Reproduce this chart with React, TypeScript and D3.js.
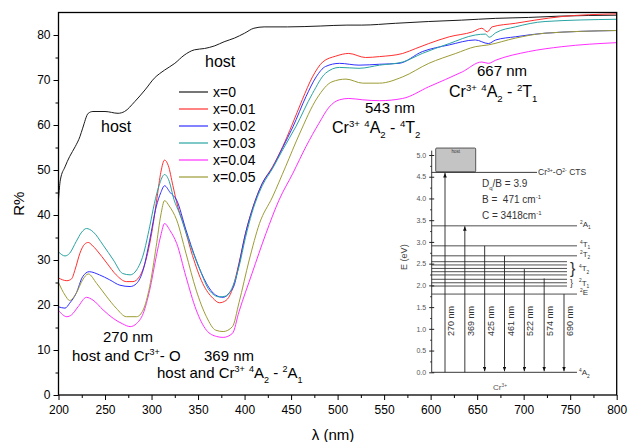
import { useEffect, useRef } from "react";
import * as d3 from "d3";

const W = 629;
const H = 442;
const FONT = "'Liberation Sans', Arial, sans-serif";
const PLOT = { left: 58.5, right: 616.7, top: 12.5, bottom: 395 };

type Pt = [number, number];

// [wavelength nm, R%]
const x0: Pt[] = [
  [200, 43.5], [202, 47.8], [207, 50.7], [212, 53], [218, 55.2], [223, 57.4], [226, 59.3],
  [232, 62.6], [237, 63], [250, 63], [264, 62.6], [271, 63], [282, 65.2], [293, 67.8],
  [303, 70.4], [314, 72.2], [325, 73.7], [335, 75.5], [346, 76.7], [357, 77], [368, 77.6],
  [378, 78.5], [389, 79.3], [400, 80.4], [410, 81.5], [421, 81.8], [446, 81.8], [482, 82],
  [510, 82.2], [526, 82.2], [562, 82.6], [598, 83], [633, 83.3], [670, 83.7], [705, 83.9],
  [740, 84.2], [800, 84.4],
];
const x001: Pt[] = [
  [200, 26], [209, 25.4], [214, 25.8], [218, 28], [223, 31.5], [228, 33.5], [232, 33.9],
  [236, 33.3], [241, 32.2], [252, 29.3], [262, 26.7], [273, 25.2], [280, 25.2], [287, 26.3],
  [294, 30], [301, 37], [306, 44], [310, 49.5], [314, 52.2], [318, 51], [323, 46.5],
  [328, 42], [334, 38.2], [344, 31], [355, 24.8], [366, 21.5], [373, 20.5], [380, 21],
  [386, 23], [394, 29.3], [401, 35.9], [408, 41.1], [419, 47], [430, 50.7], [441, 55.2],
  [451, 60], [462, 65.6], [473, 70.7], [484, 74], [498, 75.3], [512, 75.9], [530, 75],
  [545, 75.2], [570, 75.9], [584, 77], [598, 78.1], [620, 79.6], [645, 80.7], [655, 81.5],
  [661, 80.7], [666, 81.8], [691, 82.6], [712, 83.3], [741, 84.1], [800, 84.7],
];
const x002: Pt[] = [
  [200, 19.6], [207, 19.3], [212, 20.4], [219, 22.6], [226, 26.3], [233, 27.4], [244, 26.7],
  [255, 25.6], [266, 24.4], [277, 24.1], [284, 24.8], [291, 27.8], [298, 34.4], [305, 41.8],
  [310, 45], [314, 46.5], [320, 45], [327, 43.3], [337, 36.7], [348, 30], [359, 24.8],
  [369, 22.2], [377, 21.7], [384, 22.8], [389, 24.5], [394, 29], [401, 35.9], [408, 41],
  [419, 47], [430, 50.5], [441, 55], [452, 59.6], [466, 66.3], [477, 70.7], [487, 73],
  [502, 73.7], [523, 73.3], [545, 73.5], [566, 73.7], [591, 76.3], [620, 77.8], [648, 78.9],
  [662, 78.1], [670, 78.9], [691, 79.6], [723, 80.4], [800, 81],
];
const x003: Pt[] = [
  [200, 31.8], [207, 30.9], [212, 31.5], [219, 34.1], [225, 36.2], [230, 37], [237, 36.3],
  [248, 33.3], [259, 30], [269, 27], [277, 26.7], [284, 27.8], [291, 31.1], [298, 37.4],
  [303, 42.5], [308, 46.5], [314, 49], [319, 47.5], [324, 43.5], [330, 40.4], [341, 33.7],
  [352, 27.8], [362, 23.3], [373, 21.8], [380, 22], [387, 24], [394, 28.5], [401, 35],
  [408, 40.5], [419, 46.5], [430, 50.3], [441, 54.5], [455, 59.6], [473, 67], [487, 71.5],
  [502, 72.8], [523, 72.6], [545, 73.3], [570, 74], [591, 75.9], [620, 78.1], [648, 80],
  [659, 80.2], [663, 79.5], [670, 80.5], [691, 81.8], [723, 83], [800, 83.5],
];
const x004: Pt[] = [
  [200, 18.8], [209, 17.4], [214, 17.8], [221, 19.6], [230, 21.7], [237, 21.1], [248, 18.9],
  [259, 17], [269, 15.8], [277, 15.2], [284, 15.9], [291, 18.1], [298, 23.3], [305, 30.7],
  [310, 35.5], [314, 38.1], [320, 36.5], [327, 33.7], [337, 26.3], [348, 18.9], [359, 14.4],
  [370, 13], [377, 12.8], [387, 13.7], [394, 18.5], [408, 27], [423, 35.9], [437, 43.3],
  [452, 49.3], [466, 55.2], [480, 60.4], [491, 64], [502, 65.6], [512, 65.9], [527, 65.6],
  [545, 65.4], [570, 65.9], [598, 68.5], [634, 71.8], [655, 74], [662, 73.7], [670, 74.4],
  [705, 76.3], [741, 77.4], [800, 78.3],
];
const x005: Pt[] = [
  [200, 25], [207, 22.2], [212, 21], [219, 22.6], [226, 25.6], [232, 26.9], [241, 24.8],
  [252, 21.8], [262, 19.3], [273, 17.4], [284, 17.4], [291, 18.9], [298, 24.1], [305, 33],
  [310, 40], [314, 43.2], [319, 42], [327, 38.9], [337, 31.5], [348, 23.3], [359, 17.4],
  [369, 14.4], [377, 14.1], [387, 15.2], [394, 20.5], [405, 30], [416, 38.1], [430, 44],
  [444, 50.7], [459, 58], [478, 66], [494, 69.6], [509, 70.2], [527, 69.3], [545, 69.3],
  [570, 70.7], [598, 73.7], [627, 75.9], [648, 77.4], [662, 77.8], [691, 79.3], [723, 80.4],
  [800, 81],
];

const seriesLabels = ["x=0", "x=0.01", "x=0.02", "x=0.03", "x=0.04", "x=0.05"];
const seriesData = [x0, x001, x002, x003, x004, x005];
const seriesColors = ["#1a1a1a", "#ff3030", "#3030ff", "#2aa3a3", "#ff30ff", "#9c9c36"];

// inset: energy level diagram (eV)
const insetTicks = [0, 0.5, 1, 1.5, 2, 2.5, 3, 3.5, 4, 4.5, 5];
const ctsEnergy = 4.6;
const singleLevels: [string, number][] = [
  ["^{2}A_{1}", 3.37],
  ["^{4}T_{1}", 2.91],
  ["^{2}T_{2}", 2.68],
  ["^{2}E", 1.8],
];
const groupLevels: [string, number[]][] = [
  ["^{4}T_{2}", [2.545, 2.47, 2.39, 2.315, 2.24]],
  ["^{2}T_{1}", [2.14, 2.06, 1.985]],
];
const transLabels = ["270 nm", "369 nm", "425 nm", "461 nm", "522 nm", "574 nm", "690 nm"];
const transEnergy = [4.6, 3.37, 2.91, 2.68, 2.375, 2.16, 1.8];
const transUp = [true, true, false, false, false, false, false];

type G = d3.Selection<any, unknown, null, undefined>;

// tiny markup: ^{..} superscript, _{..} subscript
function rich(parent: G, x: number, y: number, src: string, size: number, anchor = "start", fill = "#000") {
  const t = parent
    .append("text")
    .attr("x", x)
    .attr("y", y)
    .attr("font-size", size)
    .attr("text-anchor", anchor)
    .attr("fill", fill)
    .style("white-space", "pre");
  const parts = src.match(/(\^\{[^}]*\}|_\{[^}]*\}|[^^_]+)/g) || [];
  let cur = 0;
  parts.forEach((p) => {
    let kind = "n";
    let s = p;
    if (p.startsWith("^{")) { kind = "sup"; s = p.slice(2, -1); }
    else if (p.startsWith("_{")) { kind = "sub"; s = p.slice(2, -1); }
    const target = kind === "sup" ? -0.4 * size : kind === "sub" ? 0.3 * size : 0;
    t.append("tspan")
      .attr("dy", target - cur)
      .attr("font-size", kind === "n" ? size : size * 0.6)
      .text(s);
    cur = target;
  });
  return t;
}

export default function App() {
  const ref = useRef<SVGSVGElement>(null);

  useEffect(() => {
    const svg = d3.select(ref.current);
    svg.selectAll("*").remove();
    const root = svg.append("g").attr("font-family", FONT) as G;

    const xs = d3.scaleLinear().domain([200, 800]).range([PLOT.left, PLOT.right]);
    const ys = d3.scaleLinear().domain([0, 85]).range([PLOT.bottom, PLOT.top]);

    const defs = svg.append("defs");
    defs
      .append("marker")
      .attr("id", "ah")
      .attr("viewBox", "0 0 10 8")
      .attr("refX", 10)
      .attr("refY", 4)
      .attr("markerWidth", 5)
      .attr("markerHeight", 3.6)
      .attr("markerUnits", "userSpaceOnUse")
      .attr("orient", "auto")
      .append("path")
      .attr("d", "M0,0L10,4L0,8Z")
      .attr("fill", "#111");

    // curves
    const line = d3
      .line<Pt>()
      .x((d) => xs(d[0]))
      .y((d) => ys(d[1]))
      .curve(d3.curveMonotoneX);
    seriesData.forEach((data, i) => {
      root
        .append("path")
        .datum(data)
        .attr("fill", "none")
        .attr("stroke", seriesColors[i])
        .attr("stroke-width", 1)
        .attr("d", line);
    });

    // axes
    const styleAxis = (a: G) => {
      a.select(".domain").remove();
      a.selectAll(".tick line").attr("stroke", "#000").attr("stroke-width", 1);
      a.selectAll(".tick text").attr("fill", "#000").attr("font-size", 12).attr("font-family", FONT);
    };
    root
      .append("g")
      .attr("transform", `translate(0,${PLOT.bottom})`)
      .call(d3.axisBottom(xs).tickValues(d3.range(200, 801, 50)).tickSize(5).tickPadding(5).tickFormat(d3.format("d")))
      .call(styleAxis);
    root
      .append("g")
      .attr("transform", `translate(0,${PLOT.bottom})`)
      .call(d3.axisBottom(xs).tickValues(d3.range(225, 800, 50)).tickSize(3).tickFormat(() => ""))
      .call(styleAxis);
    root
      .append("g")
      .attr("transform", `translate(${PLOT.left},0)`)
      .call(d3.axisLeft(ys).tickValues(d3.range(0, 81, 10)).tickSize(5).tickPadding(3))
      .call(styleAxis);
    root
      .append("g")
      .attr("transform", `translate(${PLOT.left},0)`)
      .call(d3.axisLeft(ys).tickValues(d3.range(5, 85, 10)).tickSize(3).tickFormat(() => ""))
      .call(styleAxis);

    root
      .append("rect")
      .attr("x", PLOT.left)
      .attr("y", PLOT.top)
      .attr("width", PLOT.right - PLOT.left)
      .attr("height", PLOT.bottom - PLOT.top)
      .attr("fill", "none")
      .attr("stroke", "#000")
      .attr("stroke-width", 1.3);

    root
      .append("text")
      .attr("transform", `translate(24,${(PLOT.top + PLOT.bottom) / 2}) rotate(-90)`)
      .attr("text-anchor", "middle")
      .attr("font-size", 15)
      .text("R%");
    root
      .append("text")
      .attr("x", 333)
      .attr("y", 440)
      .attr("text-anchor", "middle")
      .attr("font-size", 15)
      .text("λ (nm)");

    // legend
    seriesLabels.forEach((lab, i) => {
      const y = 92 + i * 17;
      root.append("line").attr("x1", 179).attr("x2", 208).attr("y1", y).attr("y2", y)
        .attr("stroke", seriesColors[i]).attr("stroke-width", 1.2);
      root.append("text").attr("x", 213).attr("y", y + 5).attr("font-size", 14).text(lab);
    });

    // annotations
    rich(root, 205, 67, "host", 16);
    rich(root, 101, 132, "host", 16);
    rich(root, 365, 113, "543 nm", 15);
    rich(root, 332, 133, "Cr^{3+} ^{4}A_{2} - ^{4}T_{2}", 16);
    rich(root, 477, 76, "667 nm", 15);
    rich(root, 449, 97, "Cr^{3+} ^{4}A_{2} - ^{2}T_{1}", 16);
    rich(root, 103, 342, "270 nm", 15);
    rich(root, 72, 361, "host and Cr^{3+}- O", 15);
    rich(root, 204, 361, "369 nm", 15);
    rich(root, 157, 378, "host and Cr^{3+} ^{4}A_{2} - ^{2}A_{1}", 15);

    // ---- inset ----
    const ins = root.append("g") as G;
    const ye = d3.scaleLinear().domain([0, 5]).range([372.3, 155]);
    const xt = d3.scalePoint<string>().domain(transLabels).range([445, 564]);
    const axX = 431.7;
    const ink = "#222";

    ins.append("line").attr("x1", axX).attr("x2", axX).attr("y1", ye(0)).attr("y2", ye(5.1))
      .attr("stroke", ink).attr("stroke-width", 0.9);
    ins.append("g")
      .attr("transform", `translate(${axX},0)`)
      .call(d3.axisLeft(ye).tickValues(insetTicks).tickSize(2.5).tickPadding(3).tickFormat(d3.format(".1f")))
      .call((a: G) => {
        a.select(".domain").remove();
        a.selectAll(".tick line").attr("stroke", ink).attr("x2", 2.5).attr("x1", -2.5);
        a.selectAll(".tick text").attr("fill", "#555").attr("font-size", 7).attr("font-family", FONT);
      });
    ins.append("g")
      .attr("transform", `translate(${axX},0)`)
      .call(d3.axisLeft(ye).tickValues(d3.range(0.25, 5, 0.5)).tickSize(1.5).tickFormat(() => ""))
      .call((a: G) => {
        a.select(".domain").remove();
        a.selectAll(".tick line").attr("stroke", ink);
      });
    ins.append("text")
      .attr("transform", `translate(407,${ye(2.65)}) rotate(-90)`)
      .attr("text-anchor", "middle")
      .attr("font-size", 9)
      .attr("fill", "#444")
      .text("E (eV)");

    // ground state
    ins.append("line").attr("x1", axX).attr("x2", 577).attr("y1", ye(0)).attr("y2", ye(0))
      .attr("stroke", ink).attr("stroke-width", 0.9);
    rich(ins, 579, ye(0) + 3, "^{4}A_{2}", 8, "start", "#333");
    rich(ins, 500, 390, "Cr^{3+}", 8, "middle", "#555");

    // host box and CTS level
    ins.append("rect").attr("x", 435.7).attr("y", ye(5.16)).attr("width", 40)
      .attr("height", ye(ctsEnergy) - ye(5.16) - 0.5)
      .attr("fill", "#c4c4c4").attr("stroke", "#333").attr("stroke-width", 0.8).attr("rx", 1);
    ins.append("text").attr("x", 455.7).attr("y", ye(5.16) + 5).attr("text-anchor", "middle")
      .attr("font-size", 4.5).attr("fill", "#333").text("host");
    ins.append("line").attr("x1", axX).attr("x2", 537).attr("y1", ye(ctsEnergy)).attr("y2", ye(ctsEnergy))
      .attr("stroke", ink).attr("stroke-width", 0.9);
    rich(ins, 538, ye(ctsEnergy) + 3, "Cr^{3+}-O^{2-} CTS", 8.5, "start", "#333");

    rich(ins, 482, 187, "D_{q}/B = 3.9", 10, "start", "#333");
    rich(ins, 482, 203, "B =  471 cm^{-1}", 10, "start", "#333");
    rich(ins, 482, 219, "C = 3418cm^{-1}", 10, "start", "#333");

    singleLevels.forEach(([name, e]) => {
      ins.append("line").attr("x1", axX).attr("x2", 577).attr("y1", ye(e)).attr("y2", ye(e))
        .attr("stroke", ink).attr("stroke-width", 0.8);
      rich(ins, 580, ye(e) + 1, name, 8, "start", "#333");
    });
    groupLevels.forEach(([name, es]) => {
      es.forEach((e) => {
        ins.append("line").attr("x1", axX).attr("x2", 567).attr("y1", ye(e)).attr("y2", ye(e))
          .attr("stroke", ink).attr("stroke-width", 0.8);
      });
      const top = ye(d3.max(es) as number);
      const bot = ye(d3.min(es) as number);
      const span = bot - top + 2;
      ins.append("text")
        .attr("x", 570)
        .attr("y", (top + bot) / 2 + span * 0.36)
        .attr("font-size", span * 1.05)
        .attr("fill", "#333")
        .text("}");
      rich(ins, 579, (top + bot) / 2 + 3, name, 8, "start", "#333");
    });

    // transitions
    transLabels.forEach((lab, i) => {
      const x = xt(lab) as number;
      const e = transEnergy[i];
      const y1 = transUp[i] ? ye(0) : ye(e);
      const y2 = transUp[i] ? ye(e) + 0.5 : ye(0) - 1;
      ins.append("line").attr("x1", x).attr("x2", x).attr("y1", y1).attr("y2", y2)
        .attr("stroke", ink).attr("stroke-width", 0.9).attr("marker-end", "url(#ah)");
      ins.append("text")
        .attr("transform", `translate(${x + 9},321) rotate(-90)`)
        .attr("text-anchor", "middle")
        .attr("font-size", 9)
        .attr("fill", "#333")
        .text(lab);
    });
  }, []);

  return (
    <svg
      ref={ref}
      width={W}
      height={H}
      style={{ position: "fixed", left: 0, top: 0, background: "#fff" }}
    />
  );
}
